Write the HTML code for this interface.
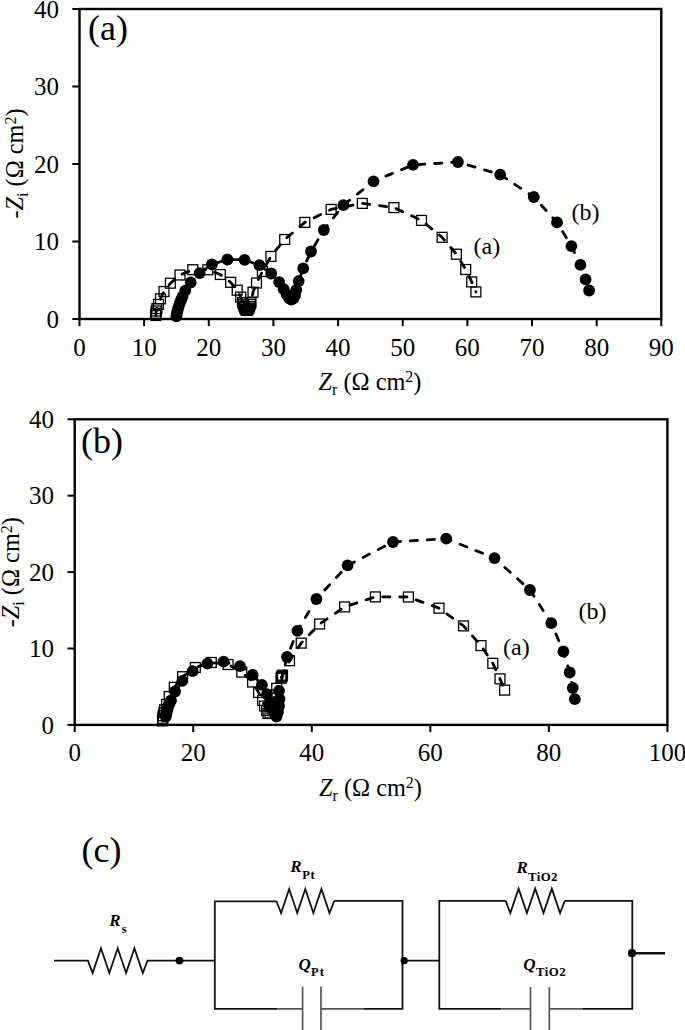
<!DOCTYPE html>
<html><head><meta charset="utf-8"><title>Nyquist plots</title>
<style>
html,body{margin:0;padding:0;background:#fff;}
body{width:685px;height:1030px;overflow:hidden;}
svg{display:block;}
text{font-family:"Liberation Serif",serif;fill:#000;}
.tk{font-size:25px;}
.tt{font-size:24.3px;}
.pl{font-size:36px;}
.sl{font-size:24px;}
.cl{font-size:17px;font-weight:bold;font-style:italic;}
.cs{font-size:12.5px;font-weight:bold;font-style:normal;}
.cs2{font-size:12.8px;font-weight:bold;font-style:normal;letter-spacing:0.45px;}
</style></head>
<body>
<svg width="685" height="1030" viewBox="0 0 685 1030">
<rect width="685" height="1030" fill="#fff"/>
<rect x="79.50" y="9.00" width="581.80" height="310.00" fill="none" stroke="#000" stroke-width="2.4"/>
<line x1="72.30" y1="319.00" x2="79.50" y2="319.00" stroke="#000" stroke-width="2"/>
<line x1="72.30" y1="241.50" x2="79.50" y2="241.50" stroke="#000" stroke-width="2"/>
<line x1="72.30" y1="164.00" x2="79.50" y2="164.00" stroke="#000" stroke-width="2"/>
<line x1="72.30" y1="86.50" x2="79.50" y2="86.50" stroke="#000" stroke-width="2"/>
<line x1="72.30" y1="9.00" x2="79.50" y2="9.00" stroke="#000" stroke-width="2"/>
<line x1="79.50" y1="319.00" x2="79.50" y2="326.20" stroke="#000" stroke-width="2"/>
<line x1="144.14" y1="319.00" x2="144.14" y2="326.20" stroke="#000" stroke-width="2"/>
<line x1="208.79" y1="319.00" x2="208.79" y2="326.20" stroke="#000" stroke-width="2"/>
<line x1="273.43" y1="319.00" x2="273.43" y2="326.20" stroke="#000" stroke-width="2"/>
<line x1="338.08" y1="319.00" x2="338.08" y2="326.20" stroke="#000" stroke-width="2"/>
<line x1="402.72" y1="319.00" x2="402.72" y2="326.20" stroke="#000" stroke-width="2"/>
<line x1="467.37" y1="319.00" x2="467.37" y2="326.20" stroke="#000" stroke-width="2"/>
<line x1="532.01" y1="319.00" x2="532.01" y2="326.20" stroke="#000" stroke-width="2"/>
<line x1="596.66" y1="319.00" x2="596.66" y2="326.20" stroke="#000" stroke-width="2"/>
<line x1="661.30" y1="319.00" x2="661.30" y2="326.20" stroke="#000" stroke-width="2"/>
<text x="59.00" y="327.60" text-anchor="end" class="tk">0</text>
<text x="59.00" y="250.10" text-anchor="end" class="tk">10</text>
<text x="59.00" y="172.60" text-anchor="end" class="tk">20</text>
<text x="59.00" y="95.10" text-anchor="end" class="tk">30</text>
<text x="59.00" y="17.60" text-anchor="end" class="tk">40</text>
<text x="79.50" y="355.60" text-anchor="middle" class="tk">0</text>
<text x="144.14" y="355.60" text-anchor="middle" class="tk">10</text>
<text x="208.79" y="355.60" text-anchor="middle" class="tk">20</text>
<text x="273.43" y="355.60" text-anchor="middle" class="tk">30</text>
<text x="338.08" y="355.60" text-anchor="middle" class="tk">40</text>
<text x="402.72" y="355.60" text-anchor="middle" class="tk">50</text>
<text x="467.37" y="355.60" text-anchor="middle" class="tk">60</text>
<text x="532.01" y="355.60" text-anchor="middle" class="tk">70</text>
<text x="596.66" y="355.60" text-anchor="middle" class="tk">80</text>
<text x="661.30" y="355.60" text-anchor="middle" class="tk">90</text>
<path d="M155.80 315.50 L155.90 313.30 L156.20 311.00 L156.90 308.60 L158.50 304.40 L160.50 298.80 L164.00 291.50 L170.40 283.20 L180.00 275.00 L192.80 269.70 L207.80 269.80 L220.30 274.50 L230.60 282.30 L237.20 290.20 L240.70 297.10 L242.50 302.50 L243.30 304.10 L244.00 306.00 L244.70 307.60 L245.30 309.00 L245.90 309.80 L246.60 310.30 L247.30 310.10 L248.00 309.50 L248.80 308.20 L249.50 306.50 L250.30 304.30 L251.00 302.50 L253.00 292.20 L256.50 283.00 L262.40 271.50 L270.90 256.40 L284.70 239.50 L304.80 222.40 L331.10 209.40 L362.30 203.40 L393.90 207.60 L421.50 220.40 L442.10 237.30 L456.40 254.20 L465.70 269.50 L471.70 281.90 L475.90 291.90" fill="none" stroke="#000" stroke-width="2.8" stroke-dasharray="7.2 9.8" stroke-linecap="round" stroke-linejoin="round"/>
<path d="M176.40 316.30 L176.80 313.60 L177.50 310.60 L178.40 307.30 L179.70 303.40 L181.00 300.20 L182.50 296.60 L185.30 290.60 L190.70 282.50 L199.60 273.10 L211.90 264.40 L227.40 259.50 L244.60 259.80 L259.40 265.20 L271.20 273.50 L279.10 282.10 L283.70 289.20 L286.70 294.50 L289.00 298.00 L291.20 299.50 L293.30 298.50 L295.00 295.50 L296.30 290.00 L298.70 281.10 L303.20 268.40 L311.00 251.50 L323.80 230.00 L343.40 205.20 L373.50 181.30 L413.00 164.90 L457.90 162.00 L500.20 174.60 L533.80 197.00 L557.00 222.40 L571.40 246.10 L580.40 264.90 L585.60 279.40 L589.10 290.50" fill="none" stroke="#000" stroke-width="2.8" stroke-dasharray="7.2 9.8" stroke-linecap="round" stroke-linejoin="round"/>
<rect x="150.85" y="310.55" width="9.9" height="9.9" fill="none" stroke="#000" stroke-width="1.3"/>
<rect x="150.95" y="308.35" width="9.9" height="9.9" fill="none" stroke="#000" stroke-width="1.3"/>
<rect x="151.25" y="306.05" width="9.9" height="9.9" fill="none" stroke="#000" stroke-width="1.3"/>
<rect x="151.95" y="303.65" width="9.9" height="9.9" fill="none" stroke="#000" stroke-width="1.3"/>
<rect x="153.55" y="299.45" width="9.9" height="9.9" fill="none" stroke="#000" stroke-width="1.3"/>
<rect x="155.55" y="293.85" width="9.9" height="9.9" fill="none" stroke="#000" stroke-width="1.3"/>
<rect x="159.05" y="286.55" width="9.9" height="9.9" fill="none" stroke="#000" stroke-width="1.3"/>
<rect x="165.45" y="278.25" width="9.9" height="9.9" fill="none" stroke="#000" stroke-width="1.3"/>
<rect x="175.05" y="270.05" width="9.9" height="9.9" fill="none" stroke="#000" stroke-width="1.3"/>
<rect x="187.85" y="264.75" width="9.9" height="9.9" fill="none" stroke="#000" stroke-width="1.3"/>
<rect x="202.85" y="264.85" width="9.9" height="9.9" fill="none" stroke="#000" stroke-width="1.3"/>
<rect x="215.35" y="269.55" width="9.9" height="9.9" fill="none" stroke="#000" stroke-width="1.3"/>
<rect x="225.65" y="277.35" width="9.9" height="9.9" fill="none" stroke="#000" stroke-width="1.3"/>
<rect x="232.25" y="285.25" width="9.9" height="9.9" fill="none" stroke="#000" stroke-width="1.3"/>
<rect x="235.75" y="292.15" width="9.9" height="9.9" fill="none" stroke="#000" stroke-width="1.3"/>
<rect x="237.55" y="297.55" width="9.9" height="9.9" fill="none" stroke="#000" stroke-width="1.3"/>
<rect x="238.35" y="299.15" width="9.9" height="9.9" fill="none" stroke="#000" stroke-width="1.3"/>
<rect x="239.05" y="301.05" width="9.9" height="9.9" fill="none" stroke="#000" stroke-width="1.3"/>
<rect x="239.75" y="302.65" width="9.9" height="9.9" fill="none" stroke="#000" stroke-width="1.3"/>
<rect x="240.35" y="304.05" width="9.9" height="9.9" fill="none" stroke="#000" stroke-width="1.3"/>
<rect x="240.95" y="304.85" width="9.9" height="9.9" fill="none" stroke="#000" stroke-width="1.3"/>
<rect x="241.65" y="305.35" width="9.9" height="9.9" fill="none" stroke="#000" stroke-width="1.3"/>
<rect x="242.35" y="305.15" width="9.9" height="9.9" fill="none" stroke="#000" stroke-width="1.3"/>
<rect x="243.05" y="304.55" width="9.9" height="9.9" fill="none" stroke="#000" stroke-width="1.3"/>
<rect x="243.85" y="303.25" width="9.9" height="9.9" fill="none" stroke="#000" stroke-width="1.3"/>
<rect x="244.55" y="301.55" width="9.9" height="9.9" fill="none" stroke="#000" stroke-width="1.3"/>
<rect x="245.35" y="299.35" width="9.9" height="9.9" fill="none" stroke="#000" stroke-width="1.3"/>
<rect x="246.05" y="297.55" width="9.9" height="9.9" fill="none" stroke="#000" stroke-width="1.3"/>
<rect x="248.05" y="287.25" width="9.9" height="9.9" fill="none" stroke="#000" stroke-width="1.3"/>
<rect x="251.55" y="278.05" width="9.9" height="9.9" fill="none" stroke="#000" stroke-width="1.3"/>
<rect x="257.45" y="266.55" width="9.9" height="9.9" fill="none" stroke="#000" stroke-width="1.3"/>
<rect x="265.95" y="251.45" width="9.9" height="9.9" fill="none" stroke="#000" stroke-width="1.3"/>
<rect x="279.75" y="234.55" width="9.9" height="9.9" fill="none" stroke="#000" stroke-width="1.3"/>
<rect x="299.85" y="217.45" width="9.9" height="9.9" fill="none" stroke="#000" stroke-width="1.3"/>
<rect x="326.15" y="204.45" width="9.9" height="9.9" fill="none" stroke="#000" stroke-width="1.3"/>
<rect x="357.35" y="198.45" width="9.9" height="9.9" fill="none" stroke="#000" stroke-width="1.3"/>
<rect x="388.95" y="202.65" width="9.9" height="9.9" fill="none" stroke="#000" stroke-width="1.3"/>
<rect x="416.55" y="215.45" width="9.9" height="9.9" fill="none" stroke="#000" stroke-width="1.3"/>
<rect x="437.15" y="232.35" width="9.9" height="9.9" fill="none" stroke="#000" stroke-width="1.3"/>
<rect x="451.45" y="249.25" width="9.9" height="9.9" fill="none" stroke="#000" stroke-width="1.3"/>
<rect x="460.75" y="264.55" width="9.9" height="9.9" fill="none" stroke="#000" stroke-width="1.3"/>
<rect x="466.75" y="276.95" width="9.9" height="9.9" fill="none" stroke="#000" stroke-width="1.3"/>
<rect x="470.95" y="286.95" width="9.9" height="9.9" fill="none" stroke="#000" stroke-width="1.3"/>
<circle cx="176.40" cy="316.30" r="5.9"/>
<circle cx="176.80" cy="313.60" r="5.9"/>
<circle cx="177.50" cy="310.60" r="5.9"/>
<circle cx="178.40" cy="307.30" r="5.9"/>
<circle cx="179.70" cy="303.40" r="5.9"/>
<circle cx="181.00" cy="300.20" r="5.9"/>
<circle cx="182.50" cy="296.60" r="5.9"/>
<circle cx="185.30" cy="290.60" r="5.9"/>
<circle cx="190.70" cy="282.50" r="5.9"/>
<circle cx="199.60" cy="273.10" r="5.9"/>
<circle cx="211.90" cy="264.40" r="5.9"/>
<circle cx="227.40" cy="259.50" r="5.9"/>
<circle cx="244.60" cy="259.80" r="5.9"/>
<circle cx="259.40" cy="265.20" r="5.9"/>
<circle cx="271.20" cy="273.50" r="5.9"/>
<circle cx="279.10" cy="282.10" r="5.9"/>
<circle cx="283.70" cy="289.20" r="5.9"/>
<circle cx="286.70" cy="294.50" r="5.9"/>
<circle cx="289.00" cy="298.00" r="5.9"/>
<circle cx="291.20" cy="299.50" r="5.9"/>
<circle cx="293.30" cy="298.50" r="5.9"/>
<circle cx="295.00" cy="295.50" r="5.9"/>
<circle cx="296.30" cy="290.00" r="5.9"/>
<circle cx="298.70" cy="281.10" r="5.9"/>
<circle cx="303.20" cy="268.40" r="5.9"/>
<circle cx="311.00" cy="251.50" r="5.9"/>
<circle cx="323.80" cy="230.00" r="5.9"/>
<circle cx="343.40" cy="205.20" r="5.9"/>
<circle cx="373.50" cy="181.30" r="5.9"/>
<circle cx="413.00" cy="164.90" r="5.9"/>
<circle cx="457.90" cy="162.00" r="5.9"/>
<circle cx="500.20" cy="174.60" r="5.9"/>
<circle cx="533.80" cy="197.00" r="5.9"/>
<circle cx="557.00" cy="222.40" r="5.9"/>
<circle cx="571.40" cy="246.10" r="5.9"/>
<circle cx="580.40" cy="264.90" r="5.9"/>
<circle cx="585.60" cy="279.40" r="5.9"/>
<circle cx="589.10" cy="290.50" r="5.9"/>
<text x="88" y="39.5" class="pl">(a)</text>
<text x="473.5" y="254" class="sl">(a)</text>
<text x="571.5" y="220" class="sl">(b)</text>
<text x="318.5" y="389.5" class="tt"><tspan font-style="italic">Z</tspan><tspan font-size="16" dy="5.3">r</tspan><tspan dy="-5.3"> (&#937; cm</tspan><tspan font-size="16" dy="-7.5">2</tspan><tspan dy="7.5">)</tspan></text>
<text transform="translate(23,163.5) rotate(-90)" text-anchor="middle" class="tt">-<tspan font-style="italic">Z</tspan><tspan font-size="16" dy="5.3">i</tspan><tspan dy="-5.3"> (&#937; cm</tspan><tspan font-size="16" dy="-7.5">2</tspan><tspan dy="7.5">)</tspan></text>
<rect x="74.70" y="419.30" width="592.70" height="305.60" fill="none" stroke="#000" stroke-width="2.4"/>
<line x1="67.50" y1="724.90" x2="74.70" y2="724.90" stroke="#000" stroke-width="2"/>
<line x1="67.50" y1="648.50" x2="74.70" y2="648.50" stroke="#000" stroke-width="2"/>
<line x1="67.50" y1="572.10" x2="74.70" y2="572.10" stroke="#000" stroke-width="2"/>
<line x1="67.50" y1="495.70" x2="74.70" y2="495.70" stroke="#000" stroke-width="2"/>
<line x1="67.50" y1="419.30" x2="74.70" y2="419.30" stroke="#000" stroke-width="2"/>
<line x1="74.70" y1="724.90" x2="74.70" y2="732.10" stroke="#000" stroke-width="2"/>
<line x1="193.24" y1="724.90" x2="193.24" y2="732.10" stroke="#000" stroke-width="2"/>
<line x1="311.78" y1="724.90" x2="311.78" y2="732.10" stroke="#000" stroke-width="2"/>
<line x1="430.32" y1="724.90" x2="430.32" y2="732.10" stroke="#000" stroke-width="2"/>
<line x1="548.86" y1="724.90" x2="548.86" y2="732.10" stroke="#000" stroke-width="2"/>
<line x1="667.40" y1="724.90" x2="667.40" y2="732.10" stroke="#000" stroke-width="2"/>
<text x="54.00" y="733.50" text-anchor="end" class="tk">0</text>
<text x="54.00" y="657.10" text-anchor="end" class="tk">10</text>
<text x="54.00" y="580.70" text-anchor="end" class="tk">20</text>
<text x="54.00" y="504.30" text-anchor="end" class="tk">30</text>
<text x="54.00" y="427.90" text-anchor="end" class="tk">40</text>
<text x="74.70" y="761.40" text-anchor="middle" class="tk">0</text>
<text x="193.24" y="761.40" text-anchor="middle" class="tk">20</text>
<text x="311.78" y="761.40" text-anchor="middle" class="tk">40</text>
<text x="430.32" y="761.40" text-anchor="middle" class="tk">60</text>
<text x="548.86" y="761.40" text-anchor="middle" class="tk">80</text>
<text x="667.40" y="761.40" text-anchor="middle" class="tk">100</text>
<path d="M162.50 720.90 L162.80 718.30 L163.10 715.70 L163.90 712.70 L164.70 709.70 L166.60 704.40 L169.20 696.50 L174.30 687.30 L182.60 676.70 L195.30 667.50 L211.30 662.50 L228.10 664.50 L241.80 672.10 L252.60 682.00 L258.60 692.50 L262.60 700.50 L264.50 706.00 L266.70 710.50 L268.00 713.50 L270.00 713.00 L272.00 709.00 L274.00 702.00 L275.50 695.00 L276.70 688.30 L281.00 678.20 L281.50 677.20 L282.00 676.20 L282.50 675.20 L289.50 660.70 L301.20 643.10 L319.60 624.00 L344.60 606.90 L375.40 596.90 L408.40 597.00 L439.00 608.20 L463.50 625.90 L481.00 645.60 L492.80 663.30 L500.00 678.80 L504.60 690.10" fill="none" stroke="#000" stroke-width="2.8" stroke-dasharray="7.2 9.8" stroke-linecap="round" stroke-linejoin="round"/>
<path d="M165.80 716.50 L166.30 714.00 L166.90 711.30 L167.60 708.60 L168.40 706.00 L169.60 703.20 L171.00 700.30 L175.10 691.50 L182.30 680.80 L192.60 671.20 L207.40 663.60 L223.60 661.70 L240.00 666.10 L252.60 674.80 L261.90 684.90 L267.00 694.20 L270.00 702.00 L272.50 709.00 L275.00 714.50 L276.50 716.50 L278.00 712.00 L279.00 706.00 L279.50 699.00 L279.00 690.80 L287.00 657.00 L297.40 630.80 L316.40 599.00 L347.60 565.40 L393.00 542.00 L446.20 538.60 L494.50 558.10 L529.90 590.00 L551.30 623.20 L563.40 651.50 L569.70 672.50 L572.80 688.00 L574.80 699.20" fill="none" stroke="#000" stroke-width="2.8" stroke-dasharray="7.2 9.8" stroke-linecap="round" stroke-linejoin="round"/>
<rect x="157.55" y="715.95" width="9.9" height="9.9" fill="none" stroke="#000" stroke-width="1.3"/>
<rect x="157.85" y="713.35" width="9.9" height="9.9" fill="none" stroke="#000" stroke-width="1.3"/>
<rect x="158.15" y="710.75" width="9.9" height="9.9" fill="none" stroke="#000" stroke-width="1.3"/>
<rect x="158.95" y="707.75" width="9.9" height="9.9" fill="none" stroke="#000" stroke-width="1.3"/>
<rect x="159.75" y="704.75" width="9.9" height="9.9" fill="none" stroke="#000" stroke-width="1.3"/>
<rect x="161.65" y="699.45" width="9.9" height="9.9" fill="none" stroke="#000" stroke-width="1.3"/>
<rect x="164.25" y="691.55" width="9.9" height="9.9" fill="none" stroke="#000" stroke-width="1.3"/>
<rect x="169.35" y="682.35" width="9.9" height="9.9" fill="none" stroke="#000" stroke-width="1.3"/>
<rect x="177.65" y="671.75" width="9.9" height="9.9" fill="none" stroke="#000" stroke-width="1.3"/>
<rect x="190.35" y="662.55" width="9.9" height="9.9" fill="none" stroke="#000" stroke-width="1.3"/>
<rect x="206.35" y="657.55" width="9.9" height="9.9" fill="none" stroke="#000" stroke-width="1.3"/>
<rect x="223.15" y="659.55" width="9.9" height="9.9" fill="none" stroke="#000" stroke-width="1.3"/>
<rect x="236.85" y="667.15" width="9.9" height="9.9" fill="none" stroke="#000" stroke-width="1.3"/>
<rect x="247.65" y="677.05" width="9.9" height="9.9" fill="none" stroke="#000" stroke-width="1.3"/>
<rect x="253.65" y="687.55" width="9.9" height="9.9" fill="none" stroke="#000" stroke-width="1.3"/>
<rect x="257.65" y="695.55" width="9.9" height="9.9" fill="none" stroke="#000" stroke-width="1.3"/>
<rect x="259.55" y="701.05" width="9.9" height="9.9" fill="none" stroke="#000" stroke-width="1.3"/>
<rect x="261.75" y="705.55" width="9.9" height="9.9" fill="none" stroke="#000" stroke-width="1.3"/>
<rect x="263.05" y="708.55" width="9.9" height="9.9" fill="none" stroke="#000" stroke-width="1.3"/>
<rect x="265.05" y="708.05" width="9.9" height="9.9" fill="none" stroke="#000" stroke-width="1.3"/>
<rect x="267.05" y="704.05" width="9.9" height="9.9" fill="none" stroke="#000" stroke-width="1.3"/>
<rect x="269.05" y="697.05" width="9.9" height="9.9" fill="none" stroke="#000" stroke-width="1.3"/>
<rect x="270.55" y="690.05" width="9.9" height="9.9" fill="none" stroke="#000" stroke-width="1.3"/>
<rect x="271.75" y="683.35" width="9.9" height="9.9" fill="none" stroke="#000" stroke-width="1.3"/>
<rect x="276.05" y="673.25" width="9.9" height="9.9" fill="none" stroke="#000" stroke-width="1.3"/>
<rect x="276.55" y="672.25" width="9.9" height="9.9" fill="none" stroke="#000" stroke-width="1.3"/>
<rect x="277.05" y="671.25" width="9.9" height="9.9" fill="none" stroke="#000" stroke-width="1.3"/>
<rect x="277.55" y="670.25" width="9.9" height="9.9" fill="none" stroke="#000" stroke-width="1.3"/>
<rect x="284.55" y="655.75" width="9.9" height="9.9" fill="none" stroke="#000" stroke-width="1.3"/>
<rect x="296.25" y="638.15" width="9.9" height="9.9" fill="none" stroke="#000" stroke-width="1.3"/>
<rect x="314.65" y="619.05" width="9.9" height="9.9" fill="none" stroke="#000" stroke-width="1.3"/>
<rect x="339.65" y="601.95" width="9.9" height="9.9" fill="none" stroke="#000" stroke-width="1.3"/>
<rect x="370.45" y="591.95" width="9.9" height="9.9" fill="none" stroke="#000" stroke-width="1.3"/>
<rect x="403.45" y="592.05" width="9.9" height="9.9" fill="none" stroke="#000" stroke-width="1.3"/>
<rect x="434.05" y="603.25" width="9.9" height="9.9" fill="none" stroke="#000" stroke-width="1.3"/>
<rect x="458.55" y="620.95" width="9.9" height="9.9" fill="none" stroke="#000" stroke-width="1.3"/>
<rect x="476.05" y="640.65" width="9.9" height="9.9" fill="none" stroke="#000" stroke-width="1.3"/>
<rect x="487.85" y="658.35" width="9.9" height="9.9" fill="none" stroke="#000" stroke-width="1.3"/>
<rect x="495.05" y="673.85" width="9.9" height="9.9" fill="none" stroke="#000" stroke-width="1.3"/>
<rect x="499.65" y="685.15" width="9.9" height="9.9" fill="none" stroke="#000" stroke-width="1.3"/>
<circle cx="165.80" cy="716.50" r="5.9"/>
<circle cx="166.30" cy="714.00" r="5.9"/>
<circle cx="166.90" cy="711.30" r="5.9"/>
<circle cx="167.60" cy="708.60" r="5.9"/>
<circle cx="168.40" cy="706.00" r="5.9"/>
<circle cx="169.60" cy="703.20" r="5.9"/>
<circle cx="171.00" cy="700.30" r="5.9"/>
<circle cx="175.10" cy="691.50" r="5.9"/>
<circle cx="182.30" cy="680.80" r="5.9"/>
<circle cx="192.60" cy="671.20" r="5.9"/>
<circle cx="207.40" cy="663.60" r="5.9"/>
<circle cx="223.60" cy="661.70" r="5.9"/>
<circle cx="240.00" cy="666.10" r="5.9"/>
<circle cx="252.60" cy="674.80" r="5.9"/>
<circle cx="261.90" cy="684.90" r="5.9"/>
<circle cx="267.00" cy="694.20" r="5.9"/>
<circle cx="270.00" cy="702.00" r="5.9"/>
<circle cx="272.50" cy="709.00" r="5.9"/>
<circle cx="275.00" cy="714.50" r="5.9"/>
<circle cx="276.50" cy="716.50" r="5.9"/>
<circle cx="278.00" cy="712.00" r="5.9"/>
<circle cx="279.00" cy="706.00" r="5.9"/>
<circle cx="279.50" cy="699.00" r="5.9"/>
<circle cx="279.00" cy="690.80" r="5.9"/>
<circle cx="287.00" cy="657.00" r="5.9"/>
<circle cx="297.40" cy="630.80" r="5.9"/>
<circle cx="316.40" cy="599.00" r="5.9"/>
<circle cx="347.60" cy="565.40" r="5.9"/>
<circle cx="393.00" cy="542.00" r="5.9"/>
<circle cx="446.20" cy="538.60" r="5.9"/>
<circle cx="494.50" cy="558.10" r="5.9"/>
<circle cx="529.90" cy="590.00" r="5.9"/>
<circle cx="551.30" cy="623.20" r="5.9"/>
<circle cx="563.40" cy="651.50" r="5.9"/>
<circle cx="569.70" cy="672.50" r="5.9"/>
<circle cx="572.80" cy="688.00" r="5.9"/>
<circle cx="574.80" cy="699.20" r="5.9"/>
<text x="81" y="452.5" class="pl">(b)</text>
<text x="503" y="655" class="sl">(a)</text>
<text x="578.5" y="618.5" class="sl">(b)</text>
<text x="319" y="795.6" class="tt"><tspan font-style="italic">Z</tspan><tspan font-size="16" dy="5.3">r</tspan><tspan dy="-5.3"> (&#937; cm</tspan><tspan font-size="16" dy="-7.5">2</tspan><tspan dy="7.5">)</tspan></text>
<text transform="translate(19,572.2) rotate(-90)" text-anchor="middle" class="tt">-<tspan font-style="italic">Z</tspan><tspan font-size="16" dy="5.3">i</tspan><tspan dy="-5.3"> (&#937; cm</tspan><tspan font-size="16" dy="-7.5">2</tspan><tspan dy="7.5">)</tspan></text>
<text x="81.5" y="862" class="pl">(c)</text>
<path d="M54 960.6 L87.9 960.6  L87.90 960.60 L92.60 973.00 L100.97 948.20 L109.33 973.00 L117.70 948.20 L126.07 973.00 L134.43 948.20 L142.80 973.00 L147.50 960.60 L179.5 960.6 L214.8 960.6" fill="none" stroke="#111" stroke-width="1.8" stroke-linejoin="miter"/>
<circle cx="179.5" cy="960.6" r="3.9" fill="#000"/>
<path d="M276.4 901.3 L214.8 901.3 L214.8 1008.9 L277 1008.9 M363.4 1008.9 L402.5 1008.9 L402.5 900.8 L334.2 900.8" fill="none" stroke="#111" stroke-width="1.8" stroke-linejoin="miter"/>
<path d="M277 1008.9 L302.6 1008.9 M321 1008.9 L363.4 1008.9" fill="none" stroke="#555" stroke-width="1.7"/>
<path d="M276.40 901.00 L281.10 913.00 L289.17 889.00 L297.23 913.00 L305.30 889.00 L313.37 913.00 L321.43 889.00 L329.50 913.00 L334.20 901.00" fill="none" stroke="#111" stroke-width="1.8" stroke-linejoin="miter"/>
<path d="M302.6 986.8 L302.6 1030 M321 986.6 L321 1030" fill="none" stroke="#555" stroke-width="1.7"/>
<circle cx="404.2" cy="960.7" r="3.6" fill="#000"/>
<path d="M404 960.7 L439.3 960.7" fill="none" stroke="#111" stroke-width="1.8" stroke-linejoin="miter"/>
<path d="M505.6 900.8 L439.3 900.8 L439.3 1008.8 L501.3 1008.8 M583 1008.8 L632.3 1008.8 L632.3 900.8 L564.8 900.8" fill="none" stroke="#111" stroke-width="1.8" stroke-linejoin="miter"/>
<path d="M501.3 1008.8 L530.5 1008.8 M549.3 1008.8 L583 1008.8" fill="none" stroke="#555" stroke-width="1.7"/>
<path d="M505.60 900.80 L510.30 913.00 L518.60 888.60 L526.90 913.00 L535.20 888.60 L543.50 913.00 L551.80 888.60 L560.10 913.00 L564.80 900.80" fill="none" stroke="#111" stroke-width="1.8" stroke-linejoin="miter"/>
<path d="M530.5 986.9 L530.5 1030 M549.3 986.9 L549.3 1030" fill="none" stroke="#555" stroke-width="1.7"/>
<circle cx="632" cy="953.2" r="4.1" fill="#000"/>
<path d="M632 953.2 L665 953.2" fill="none" stroke="#111" stroke-width="2.6"/>
<text x="109.3" y="925.8" class="cl">R<tspan class="cs" dx="1" dy="7">s</tspan></text>
<text x="290.3" y="871.9" class="cl">R<tspan class="cs" dx="0.6" dy="7.3" letter-spacing="0.6">Pt</tspan></text>
<text x="298.6" y="970.2" class="cl">Q<tspan class="cs" dy="5.7" letter-spacing="1.2">Pt</tspan></text>
<text x="516.6" y="872.8" class="cl">R<tspan class="cs2" dy="8.5">TiO2</tspan></text>
<text x="523.2" y="970.2" class="cl">Q<tspan class="cs2" dx="0.5" dy="5.4">TiO2</tspan></text>
</svg>
</body></html>
